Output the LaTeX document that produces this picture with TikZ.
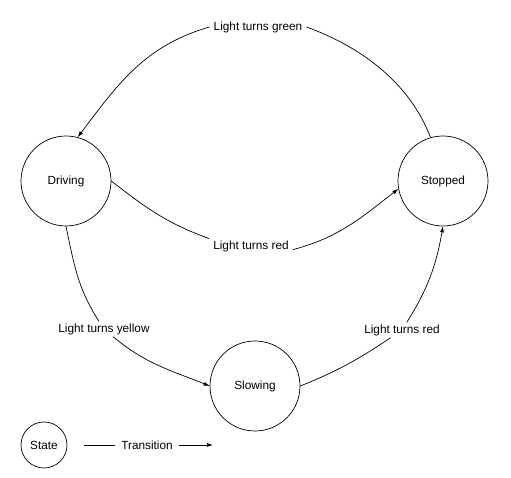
\documentclass[tikz,border=0pt]{standalone}
\usepackage{fontspec}
\setmainfont{Liberation Sans}
\usetikzlibrary{arrows.meta}

\begin{document}
\begin{tikzpicture}[x=1pt, y=1pt,
  state/.style={draw, circle, line width=0.7pt, minimum size=90pt, inner sep=0pt, font=\fontsize{11.8}{14}\selectfont},
  trans/.style={line width=0.7pt, -{Latex[length=6pt,width=4pt]}},
  lbl/.style={inner xsep=4pt, inner ysep=2pt, font=\fontsize{11.8}{14}\selectfont}]
  \useasboundingbox (0,0) rectangle (511,478);
  \node[state] (driving) at (66,297) {Driving};
  \node[state] (stopped) at (443,297) {Stopped};
  \node[state] (slowing) at (255,92) {Slowing};
  \node[lbl] (green) at (258,451) {Light turns green};
  \node[lbl] (redtop) at (251,232) {Light turns red};
  \node[lbl] (yellow) at (104,149) {Light turns yellow};
  \node[lbl] (redlow) at (402,148) {Light turns red};
  \draw[trans] (stopped.106) to[out=111, in=-20, looseness=0.9] (green.east)
    (green.west) to[out=196, in=53] (driving.75);
  \draw[trans] (driving.east) to[out=-38, in=160] (redtop.170)
    (redtop.-5) to[out=15, in=218] (stopped.190);
  \draw[trans] (driving.south) to[out=-78, in=123] (yellow)
    to[out=-40, in=158] (slowing.west);
  \draw[trans] (slowing.east) to[out=22, in=214] (redlow)
    to[out=58, in=260] (stopped.south);
  \begin{scope}
  \node[state, minimum size=46pt] (legend) at (44,33) {State};
  \node[lbl, inner xsep=6pt] (transition) at (147,33) {Transition};
  \coordinate (tleft) at (84,33);
  \coordinate (tright) at (213,33);
  \draw[trans] (tleft) -- (transition) -- (tright);
  \end{scope}
\end{tikzpicture}
\end{document}
